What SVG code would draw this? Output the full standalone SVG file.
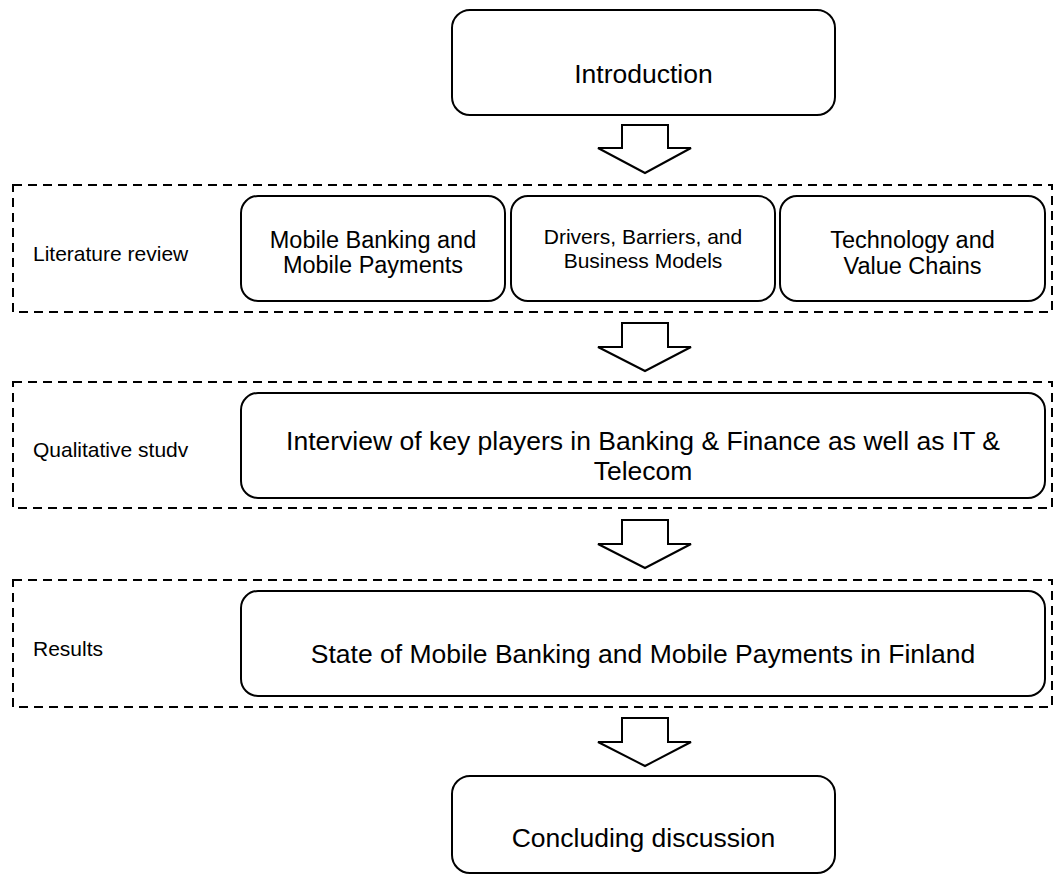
<svg xmlns="http://www.w3.org/2000/svg" width="1055" height="878" viewBox="0 0 1055 878">
<style>
text{font-family:"Liberation Sans",Arial,sans-serif;fill:#000}
.box{fill:#fff;stroke:#000;stroke-width:2}
.grp{fill:none;stroke:#000;stroke-width:2;stroke-dasharray:9 6}
.arr{fill:#fff;stroke:#000;stroke-width:2;stroke-linejoin:miter}
.big{font-size:26.5px;text-anchor:middle}
.mid{font-size:23.5px;text-anchor:middle}
.sm{font-size:21px;text-anchor:middle}
.lbl{font-size:21px}
</style>
<rect width="1055" height="878" fill="#fff"/>
<g id="groups">
<rect class="grp" x="13" y="185" width="1039" height="127"/>
<rect class="grp" x="13" y="382" width="1039" height="126"/>
<rect class="grp" x="13" y="580" width="1039" height="127"/>
<text class="lbl" x="33" y="261">Literature review</text>
<text class="lbl" x="33" y="457">Qualitative studv</text>
<text class="lbl" x="33" y="656">Results</text>
</g>
<g id="connectors">
<polygon class="arr" points="622,125 668,125 668,148 691,148 645,173 598,148 622,148"/>
<polygon class="arr" points="622,323 668,323 668,347 691,347 645,371 598,347 622,347"/>
<polygon class="arr" points="622,520 668,520 668,544 691,544 645,568 598,544 622,544"/>
<polygon class="arr" points="622,718 668,718 668,742 691,742 645,766 598,742 622,742"/>
</g>
<g id="introduction">
<rect class="box" x="452" y="10" width="383" height="105" rx="18"/>
<text class="big" x="643.5" y="83">Introduction</text>
</g>
<g id="mobile-banking">
<rect class="box" x="241" y="196" width="264" height="105" rx="17"/>
<text class="mid" x="373" y="248">Mobile Banking and</text>
<text class="mid" x="373" y="273">Mobile Payments</text>
</g>
<g id="drivers">
<rect class="box" x="511" y="196" width="264" height="105" rx="17"/>
<text class="sm" x="643" y="244">Drivers, Barriers, and</text>
<text class="sm" x="643" y="268">Business Models</text>
</g>
<g id="technology">
<rect class="box" x="780" y="196" width="265" height="105" rx="17"/>
<text class="mid" x="912.5" y="248">Technology and</text>
<text class="mid" x="912.5" y="274">Value Chains</text>
</g>
<g id="interview">
<rect class="box" x="241" y="393" width="804" height="105" rx="17"/>
<text class="big" x="643" y="450">Interview of key players in Banking &amp; Finance as well as IT &amp;</text>
<text class="big" x="643" y="480">Telecom</text>
</g>
<g id="state">
<rect class="box" x="241" y="591" width="804" height="105" rx="17"/>
<text class="big" x="643" y="663">State of Mobile Banking and Mobile Payments in Finland</text>
</g>
<g id="concluding">
<rect class="box" x="452" y="776" width="383" height="97" rx="18"/>
<text class="big" x="643.5" y="847">Concluding discussion</text>
</g>
</svg>
